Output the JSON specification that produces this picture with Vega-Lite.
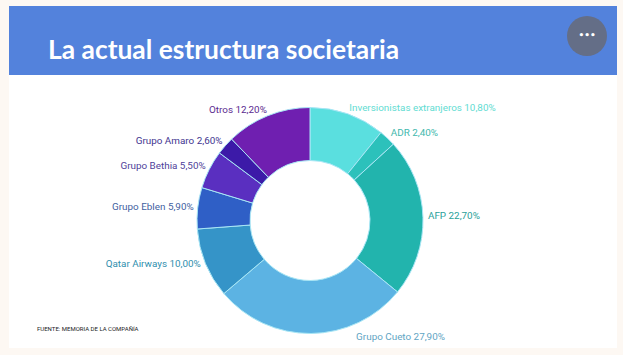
{
"$schema":"https://vega.github.io/schema/vega-lite/v6.json",
"width":623,"height":355,
"autosize":{"type":"fit","contains":"padding"},
"padding":0,
"background":"#fdf8f3",
"config":{"view":{"stroke":null}},
"datasets":{"slices":[
{"name":"Inversionistas extranjeros","share":10.8,"label":"Inversionistas extranjeros 10,80%","order":1},
{"name":"ADR","share":2.4,"label":"ADR 2,40%","order":2},
{"name":"AFP","share":22.7,"label":"AFP 22,70%","order":3},
{"name":"Grupo Cueto","share":27.9,"label":"Grupo Cueto 27,90%","order":4},
{"name":"Qatar Airways","share":10.0,"label":"Qatar Airways 10,00%","order":5},
{"name":"Grupo Eblen","share":5.9,"label":"Grupo Eblen 5,90%","order":6},
{"name":"Grupo Bethia","share":5.5,"label":"Grupo Bethia 5,50%","order":7},
{"name":"Grupo Amaro","share":2.6,"label":"Grupo Amaro 2,60%","order":8},
{"name":"Otros","share":12.2,"label":"Otros 12,20%","order":9}
]},
"layer":[
{"data":{"values":[{"part":"panel"}]},"mark":{"type":"rect","x":9,"x2":617,"y":6,"y2":348,"fill":"#ffffff"},"encoding":{}},
{"data":{"values":[{"part":"band"}]},"mark":{"type":"rect","x":9,"x2":617,"y":6,"y2":75,"fill":"#5382dc"},"encoding":{}},
{"data":{"values":[{"part":"menu"}]},"mark":{"type":"arc","x":587,"y":36,"innerRadius":0,"outerRadius":20,"theta":0,"theta2":6.2832,"fill":"#646e87"},"encoding":{}},
{"data":{"values":[{"t":"•••"}]},"mark":{"type":"text","x":587,"y":35,"align":"center","baseline":"middle","font":"DejaVu Sans","fontSize":9,"fontWeight":"bold","fill":"#ffffff"},"encoding":{"text":{"field":"t"}}},
{"data":{"values":[{"t":"La actual estructura societaria"}]},"mark":{"type":"text","x":48,"y":59,"align":"left","baseline":"alphabetic","font":"Lato","fontSize":26.4,"fontWeight":"bold","fill":"#ffffff"},"encoding":{"text":{"field":"t"}}},
{"data":{"values":[{"t":"FUENTE: MEMORIA DE LA COMPAÑÍA"}]},"mark":{"type":"text","x":37,"y":329,"align":"left","baseline":"middle","font":"Roboto","fontSize":6,"fill":"#222222"},"encoding":{"text":{"field":"t"}}},
{"data":{"name":"slices"},"mark":{"type":"arc","x":310,"y":220.5,"innerRadius":60,"outerRadius":113,"stroke":"#a8e6f5","strokeWidth":1},
"encoding":{"theta":{"field":"share","type":"quantitative","stack":true},"order":{"field":"order"},
"color":{"field":"name","type":"nominal","legend":null,"scale":{"domain":["Inversionistas extranjeros","ADR","AFP","Grupo Cueto","Qatar Airways","Grupo Eblen","Grupo Bethia","Grupo Amaro","Otros"],"range":["#5adfdf","#2cc1bb","#22b4ad","#5cb3e3","#3594c8","#2f5fc6","#5a2fc0","#3c1aa8","#6f1fb0"]}}}},
{"data":{"name":"slices"},"mark":{"type":"text","x":310,"y":220.5,"radius":118,"font":"Roboto","fontSize":9.9,"baseline":"middle","dy":-1,
"align":{"expr":"datum.order<=4 ? 'left' : 'right'"},"dx":{"expr":"datum.order==4 ? 45 : (datum.order>=6 ? 1 : 0)"}},
"encoding":{"theta":{"field":"share","type":"quantitative","stack":true},"order":{"field":"order"},"text":{"field":"label"},
"color":{"field":"name","type":"nominal","legend":null,"scale":{"domain":["Inversionistas extranjeros","ADR","AFP","Grupo Cueto","Qatar Airways","Grupo Eblen","Grupo Bethia","Grupo Amaro","Otros"],"range":["#62dcd2","#3fb8ad","#2a9f9a","#5fa5c4","#2f8fae","#3f5f9f","#4f3f9a","#3f3590","#5a2a90"]}}}}
],
"resolve":{"scale":{"color":"independent"}}
}
